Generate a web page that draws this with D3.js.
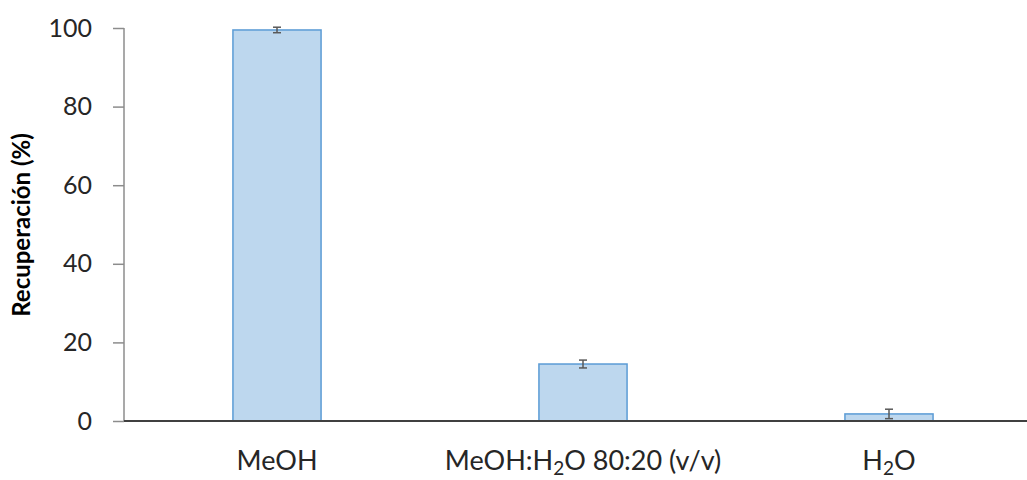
<!DOCTYPE html>
<html><head><meta charset="utf-8">
<script src="https://cdn.jsdelivr.net/npm/d3@7"></script>
<style>body{margin:0;background:#fff}svg{display:block}</style>
</head><body>
<script>
const categories = ["MeOH", "MeOH:H2O 80:20 (v/v)", "H2O"];
const values = [99.5, 14.5, 1.8];
const errors = [0.7, 1.0, 1.2];
const yTicks = [0, 20, 40, 60, 80, 100];
const yLabel = "Recuperación (%)";

const W = 1027, H = 480;
const svg = d3.select("body").append("svg").attr("width", W).attr("height", H);
const font = "Lato, 'Open Sans', sans-serif";

const x = d3.scaleBand().domain(categories).range([124, 1042]).paddingInner(0.712).paddingOuter(0.356);
const y = d3.scaleLinear().domain([0, 100]).range([421, 28]);

// bars
svg.selectAll("rect.bar").data(categories).join("rect")
  .attr("x", d => x(d)).attr("width", x.bandwidth())
  .attr("y", (d, i) => y(values[i])).attr("height", (d, i) => y(0) - y(values[i]))
  .attr("fill", "#bdd7ee").attr("stroke", "#5b9bd5").attr("stroke-width", 1.5);

// error bars
const eb = svg.append("g").attr("stroke", "#595959").attr("stroke-width", 1.5);
categories.forEach((c, i) => {
  const cx = x(c) + x.bandwidth() / 2;
  eb.append("line").attr("x1", cx).attr("x2", cx).attr("y1", y(values[i] + errors[i])).attr("y2", y(values[i] - errors[i]));
  [values[i] + errors[i], values[i] - errors[i]].forEach(v => {
    eb.append("line").attr("x1", cx - 4).attr("x2", cx + 4).attr("y1", y(v)).attr("y2", y(v));
  });
});

// y axis
const ya = svg.append("g").attr("transform", "translate(124,0)")
  .call(d3.axisLeft(y).tickValues(yTicks).tickSize(11).tickPadding(21));
ya.selectAll("path, line").attr("stroke", "#8c8c8c").attr("stroke-width", 1.5);
ya.select(".domain").attr("d", `M0,${y(100)}V${y(0)}`);
ya.selectAll("text").attr("font-family", font).attr("font-size", 25).attr("fill", "#262626");

// x axis
const xa = svg.append("g").attr("transform", "translate(0,421)")
  .call(d3.axisBottom(x).tickSize(0).tickPadding(30).tickFormat(""));
xa.select(".domain").attr("stroke", "#404040").attr("stroke-width", 2).attr("d", `M124,0H${W}`);
xa.selectAll(".tick").each(function(d) {
  const t = d3.select(this).append("text").attr("y", 49).attr("text-anchor", "middle")
    .attr("font-family", font).attr("font-size", 27).attr("fill", "#262626");
  const parts = d.split("H2O");
  if (parts.length === 1) { t.text(d); return; }
  t.append("tspan").text(parts[0] + "H");
  t.append("tspan").attr("dy", 5).attr("font-size", 19).text("2");
  t.append("tspan").attr("dy", -5).text("O" + parts[1]);
});

// y label
svg.append("text").attr("transform", "translate(30,225) rotate(-90)")
  .attr("text-anchor", "middle").attr("font-family", font).attr("font-weight", "bold")
  .attr("font-size", 24).attr("fill", "#000").text(yLabel);
</script>
</body></html>
